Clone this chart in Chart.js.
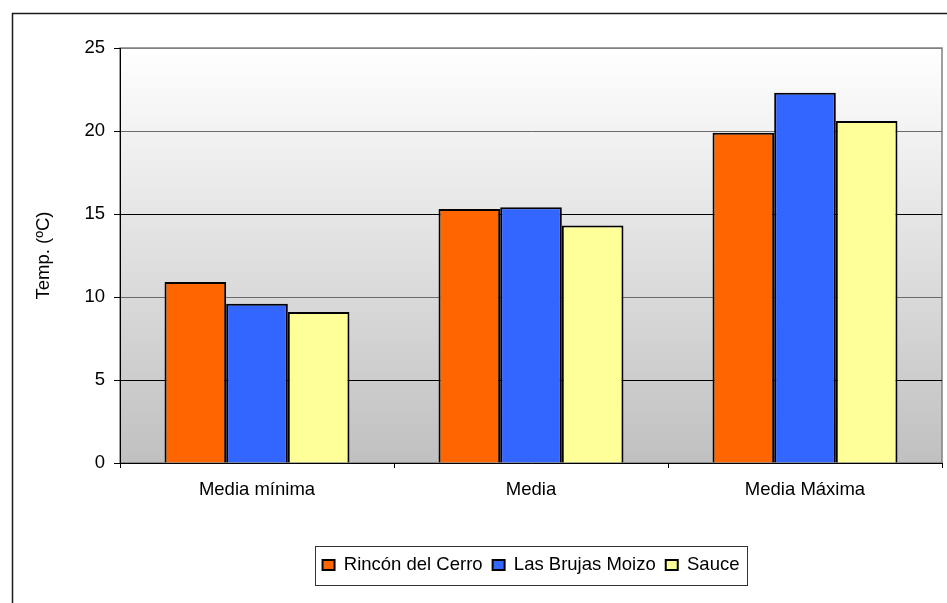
<!DOCTYPE html>
<html><head><meta charset="utf-8">
<script src="https://cdn.jsdelivr.net/npm/chart.js@4/dist/chart.umd.min.js"></script>
<style>html,body{margin:0;padding:0;background:#fff;}#wrap{position:relative;width:947px;height:603px;}</style>
</head><body><div id="wrap"><canvas id="c" width="947" height="603"></canvas></div>
<script>
const categories = ['Media mínima', 'Media', 'Media Máxima'];
const seriesNames = ['Rincón del Cerro', 'Las Brujas Moizo', 'Sauce'];
const rinconDelCerro = [10.9, 15.3, 19.9];
const lasBrujasMoizo = [9.6, 15.4, 22.3];
const sauce = [9.1, 14.3, 20.6];
const yTicks = [0, 5, 10, 15, 20, 25];
const yTitle = 'Temp. (ºC)';

const FONT = {family: "'Liberation Sans', Arial, sans-serif", size: 18.5};

const framePlugin = {
  id: 'frame',
  beforeDraw(chart) {
    const {ctx, chartArea: a} = chart;
    ctx.save();
    ctx.fillStyle = '#fff';
    ctx.fillRect(0, 0, chart.width, chart.height);
    const g = ctx.createLinearGradient(0, a.top, 0, a.bottom);
    g.addColorStop(0, '#ffffff');
    g.addColorStop(1, '#c0c0c0');
    ctx.fillStyle = g;
    ctx.fillRect(a.left, a.top, a.right - a.left, a.bottom - a.top);
    ctx.strokeStyle = '#808080';
    ctx.lineWidth = 1.5;
    ctx.strokeRect(a.left, a.top, a.right - a.left, a.bottom - a.top);
    ctx.strokeStyle = '#1a1a1a';
    ctx.lineWidth = 1.5;
    ctx.strokeRect(12.5, 13.5, 1000, 1000);
    ctx.restore();
  },
  afterLayout(chart) {
    const lg = chart.legend, a = chart.chartArea;
    if (lg) { lg.left = a.left; lg.right = a.right; lg.width = a.right - a.left; }
  },
  afterDraw(chart) {
    const lg = chart.legend;
    if (!lg || !lg.legendHitBoxes || !lg.legendHitBoxes.length) return;
    const hb = lg.legendHitBoxes;
    let minX = Infinity, maxX = -Infinity;
    hb.forEach(h => { minX = Math.min(minX, h.left); maxX = Math.max(maxX, h.left + h.width); });
    const ctx = chart.ctx;
    ctx.save();
    ctx.strokeStyle = '#333';
    ctx.lineWidth = 1;
    ctx.strokeRect(Math.round(minX - 8) + 0.5, Math.round(lg.top) + 0.5, Math.round(maxX - minX + 15), Math.round(lg.bottom - lg.top));
    ctx.restore();
  }
};

new Chart(document.getElementById('c'), {
  type: 'bar',
  data: {
    labels: categories,
    datasets: [
      {label: seriesNames[0], data: rinconDelCerro, backgroundColor: '#FF6600', borderColor: '#000', borderWidth: 2},
      {label: seriesNames[1], data: lasBrujasMoizo, backgroundColor: '#3366FF', borderColor: '#000', borderWidth: 2},
      {label: seriesNames[2], data: sauce, backgroundColor: '#FFFF99', borderColor: '#000', borderWidth: 2}
    ]
  },
  options: {
    responsive: false,
    animation: false,
    devicePixelRatio: 1,
    layout: {padding: {left: 0, right: 5, top: 48, bottom: 18.75}},
    datasets: {bar: {categoryPercentage: 0.675, barPercentage: 1.0}},
    plugins: {
      tooltip: {enabled: false},
      legend: {
        position: 'bottom',
        labels: {font: FONT, color: '#000', boxWidth: 12, boxHeight: 10, padding: 10}
      }
    },
    scales: {
      x: {
        grid: {offset: true, drawOnChartArea: false, drawTicks: true, tickLength: 5, tickColor: '#000', tickWidth: 1},
        border: {display: true, color: '#000', width: 1},
        ticks: {font: FONT, color: '#000', padding: 11, maxRotation: 0},
        afterFit(s) { s.height = 82.75; }
      },
      y: {
        min: 0, max: 25,
        afterBuildTicks(s) { s.ticks = yTicks.map(v => ({value: v})); },
        grid: {
          color: c => (c.tick && (c.tick.value === 25)) ? '#808080' : (c.tick && c.tick.value % 10 === 0 ? '#6a6a6a' : '#000'),
          lineWidth: 1,
          tickLength: 6,
          tickColor: '#000'
        },
        border: {display: true, color: '#000', width: 1},
        ticks: {font: FONT, color: '#000', padding: 9},
        title: {display: true, text: yTitle, font: FONT, color: '#000', padding: {top: 33, bottom: 0}},
        afterFit(s) { s.width = 120; }
      }
    }
  },
  plugins: [framePlugin]
});
</script>
</body></html>
